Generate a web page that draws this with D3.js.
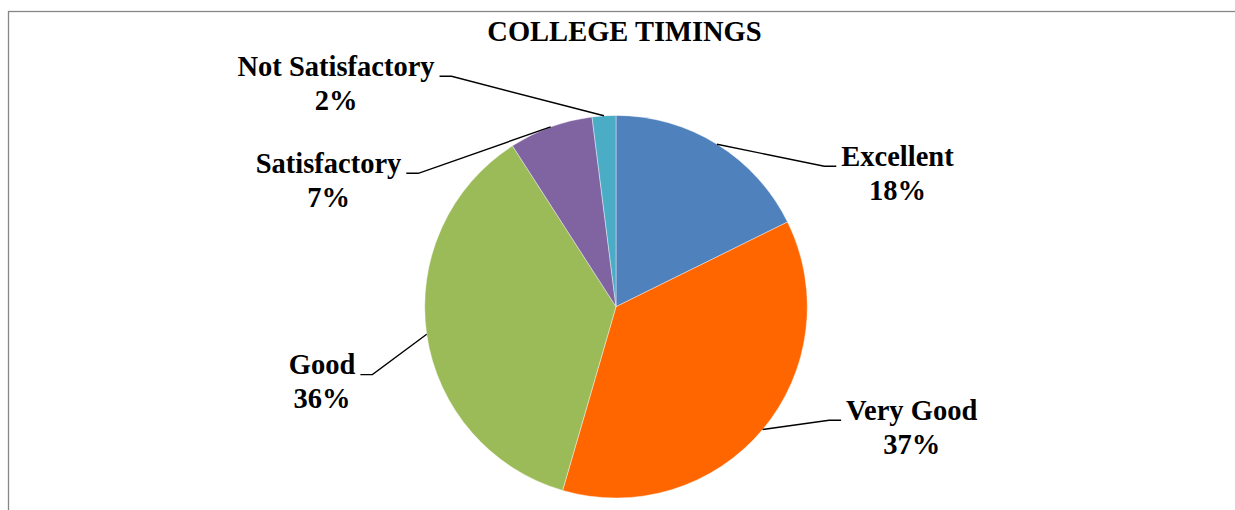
<!DOCTYPE html>
<html>
<head>
<meta charset="utf-8">
<script src="https://cdn.jsdelivr.net/npm/d3@7"></script>
<style>
  body { margin: 0; background: #fff; }
  svg text { font-family: "Liberation Serif", "Times New Roman", serif; font-weight: bold; fill: #000; }
</style>
</head>
<body>
<svg id="chart" width="1235" height="510"></svg>
<script>
//chart data
var title = "COLLEGE TIMINGS";
var categories = ["Excellent", "Very Good", "Good", "Satisfactory", "Not Satisfactory"];
var values = [17.7, 36.8, 36.4, 7.1, 2.0];
var colors = ["#4F81BD", "#FF6600", "#9BBB59", "#8064A2", "#4BACC6"];

//layout: pie centre, radius, label anchors (text centre x, first baseline y)
var cx = 616, cy = 306.7, radius = 191.3;
var fontSize = 28.5, lineGap = 34;
var labelAnchor = [[897.5, 166], [911.7, 420], [322, 374.3], [328.5, 173], [336, 76]];

var svg = d3.select("#chart");

//outer frame (only top and left edges are inside the picture)
svg.append("rect")
    .attr("x", 8.5).attr("y", 11.5)
    .attr("width", 1400).attr("height", 600)
    .attr("fill", "none")
    .attr("stroke", "#868686")
    .attr("stroke-width", 1.3);

//title
svg.append("text")
    .attr("x", 624.5).attr("y", 41)
    .attr("text-anchor", "middle")
    .style("font-size", fontSize + "px")
    .text(title);

var pie = d3.pie().sort(null).value(function(d){ return d; });
var arcs = pie(values);
var total = d3.sum(values);

var arc = d3.arc().innerRadius(0).outerRadius(radius);
var edgeArc = d3.arc().innerRadius(radius).outerRadius(radius);

var g = svg.append("g").attr("transform", "translate(" + cx + "," + cy + ")");

g.selectAll("path")
    .data(arcs)
    .enter().append("path")
    .attr("d", arc)
    .attr("fill", function(d, i){ return colors[i]; })
    .attr("stroke", "#fff")
    .attr("stroke-width", 0.4);

//labels with leader lines
arcs.forEach(function(d, i){
    var pos = labelAnchor[i];
    var t = svg.append("text")
        .attr("text-anchor", "middle")
        .style("font-size", fontSize + "px");
    t.append("tspan").attr("x", pos[0]).attr("y", pos[1]).text(categories[i]);
    t.append("tspan").attr("x", pos[0]).attr("y", pos[1] + lineGap)
        .text(Math.round(values[i] / total * 100) + "%");

    var box = t.node().firstChild.getBBox();
    var edge = edgeArc.centroid(d);
    var ex = cx + edge[0], ey = cy + edge[1];
    var rightSide = pos[0] > cx;
    var endX = rightSide ? box.x - 5 : box.x + box.width + 5;
    var elbowX = rightSide ? endX - 12 : endX + 12;
    var ly = pos[1] + 0.3;

    svg.append("path")
        .attr("d", d3.line()([[ex, ey], [elbowX, ly], [endX, ly]]))
        .attr("fill", "none")
        .attr("stroke", "#000")
        .attr("stroke-width", 1.4);
});
</script>
</body>
</html>
